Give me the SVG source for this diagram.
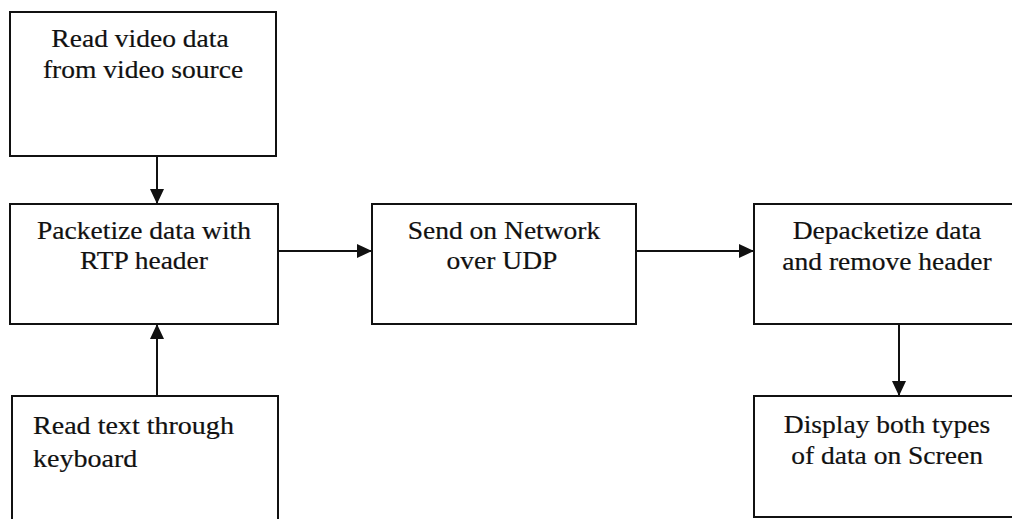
<svg xmlns="http://www.w3.org/2000/svg" width="1012" height="519" viewBox="0 0 1012 519">
<style>
.box{fill:#fff;stroke:#111;stroke-width:2}
.t{font-family:"Liberation Serif","Times New Roman",serif;font-size:25.5px;fill:#111;stroke:#111;stroke-width:0.2}
.c{text-anchor:middle}
.ln{stroke:#111;stroke-width:2;fill:none}
</style>
<defs>
<marker id="ah" viewBox="0 0 15 14" refX="15" refY="7" markerWidth="15" markerHeight="14" markerUnits="userSpaceOnUse" orient="auto">
<path d="M0,0 L15,7 L0,14 Z" fill="#111"/>
</marker>
</defs>
<rect width="1012" height="519" fill="#fff"/>
<g id="connectors">
<line class="ln" x1="157" y1="156" x2="157" y2="204" marker-end="url(#ah)"/>
<line class="ln" x1="157" y1="396" x2="157" y2="324" marker-end="url(#ah)"/>
<line class="ln" x1="278" y1="251" x2="372" y2="251" marker-end="url(#ah)"/>
<line class="ln" x1="636" y1="251" x2="754" y2="251" marker-end="url(#ah)"/>
<line class="ln" x1="899" y1="324" x2="899" y2="396" marker-end="url(#ah)"/>
</g>
<g id="n1">
<rect class="box" x="10" y="12" width="266" height="144"/>
<text class="t c" transform="translate(140,47) scale(1.08,1)">Read video data</text>
<text class="t c" transform="translate(143,78) scale(1.08,1)">from video source</text>
</g>
<g id="n2">
<rect class="box" x="10" y="204" width="268" height="120"/>
<text class="t c" transform="translate(144,239) scale(1.08,1)">Packetize data with</text>
<text class="t c" transform="translate(144,269) scale(1.08,1)">RTP header</text>
</g>
<g id="n3">
<rect class="box" x="372" y="204" width="264" height="120"/>
<text class="t c" transform="translate(504,239) scale(1.08,1)">Send on Network</text>
<text class="t c" transform="translate(502,269) scale(1.08,1)">over UDP</text>
</g>
<g id="n4">
<rect class="box" x="754" y="204" width="270" height="120"/>
<text class="t c" transform="translate(887,239) scale(1.08,1)">Depacketize data</text>
<text class="t c" transform="translate(887,270) scale(1.08,1)">and remove header</text>
</g>
<g id="n5">
<rect class="box" x="12" y="396" width="266" height="140"/>
<text class="t" transform="translate(33,434) scale(1.1,1)">Read text through</text>
<text class="t" transform="translate(33,467) scale(1.1,1)">keyboard</text>
</g>
<g id="n6">
<rect class="box" x="754" y="396" width="270" height="121"/>
<text class="t c" transform="translate(887,433) scale(1.08,1)">Display both types</text>
<text class="t c" transform="translate(887,464) scale(1.08,1)">of data on Screen</text>
</g>
</svg>
